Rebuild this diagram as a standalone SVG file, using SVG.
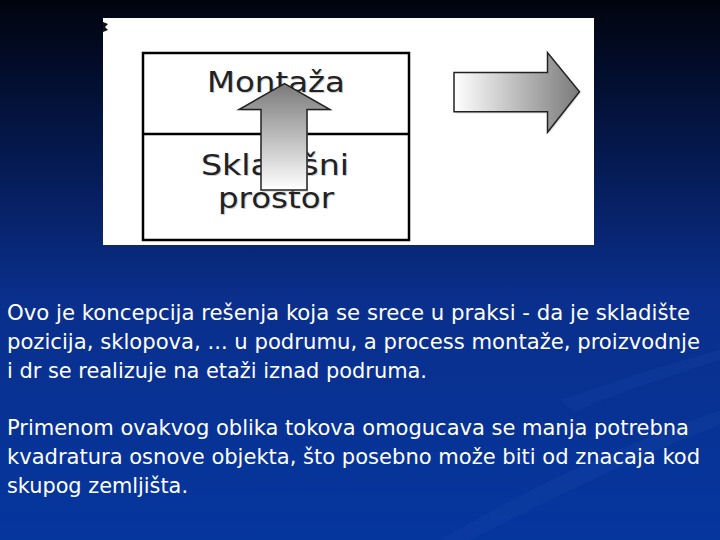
<svg xmlns="http://www.w3.org/2000/svg" width="720" height="540" viewBox="0 0 720 540">
<defs>
<linearGradient id="bg" x1="0" y1="0" x2="0" y2="1">
<stop offset="0" stop-color="#01040e"/>
<stop offset="0.3" stop-color="#051a52"/>
<stop offset="0.55" stop-color="#0a2f8c"/>
<stop offset="1" stop-color="#05369e"/>
</linearGradient>
<linearGradient id="gUp" x1="0" y1="0" x2="0" y2="1">
<stop offset="0" stop-color="#7a7a7a"/>
<stop offset="1" stop-color="#ffffff"/>
</linearGradient>
<linearGradient id="gRight" x1="0" y1="0" x2="1" y2="0">
<stop offset="0" stop-color="#ffffff"/>
<stop offset="1" stop-color="#7a7a7a"/>
</linearGradient>
<style>
.lbl{font-family:"DejaVu Sans",Verdana,sans-serif;font-size:28px;fill:#222}
.sh{font-family:"DejaVu Sans",Verdana,sans-serif;font-size:28px;fill:#cfcfcf}
.body{font-family:"DejaVu Sans Condensed","DejaVu Sans",sans-serif;font-size:22px;fill:#ffffff}
.arrow{stroke:#222;stroke-width:1.5;stroke-linejoin:miter}
</style>
</defs>
<rect x="0" y="0" width="720" height="540" fill="url(#bg)"/>
<path d="M440,540 C560,470 640,440 720,410 L720,425 C640,455 570,490 470,540 Z" fill="#2a55b8" opacity="0.15"/>
<path d="M560,400 C620,380 680,360 720,350 L720,360 C680,372 620,392 575,412 Z" fill="#2a55b8" opacity="0.15"/>
<g id="picture">
<rect x="103" y="18" width="491" height="227" fill="#ffffff"/>
<path d="M103,22 L108,24 L105,27 L108,30 L103,32 Z" fill="#111"/>
</g>
<g id="box">
<rect x="143" y="53" width="266" height="187" fill="#ffffff" stroke="#000" stroke-width="2.5"/>
<line x1="143" y1="134" x2="409" y2="134" stroke="#000" stroke-width="2.5"/>
</g>
<g id="montaza">
<text class="sh" x="208" y="93" textLength="138" lengthAdjust="spacingAndGlyphs">Montaža</text>
<text class="lbl" x="207" y="92" textLength="138" lengthAdjust="spacingAndGlyphs">Montaža</text>
</g>
<g id="skladisni">
<text class="sh" x="202" y="176" textLength="148" lengthAdjust="spacingAndGlyphs">Skladišni</text>
<text class="lbl" x="201" y="175" textLength="148" lengthAdjust="spacingAndGlyphs">Skladišni</text>
<text class="sh" x="219" y="209" textLength="116" lengthAdjust="spacingAndGlyphs">prostor</text>
<text class="lbl" x="218" y="208" textLength="116" lengthAdjust="spacingAndGlyphs">prostor</text>
</g>
<g id="connectors">
<polygon points="262,192 308,192 308,111 332,111 286,85 241,111 262,111" fill="#c8c8c8" opacity="0.5"/>
<polygon class="arrow" points="261,190 307,190 307,109.5 330,109.5 284.5,83.5 239,109.5 261,109.5" fill="url(#gUp)"/>
<polygon points="456,74 549,74 549,54 581,93 549,134 549,113.5 456,113.5" fill="#c8c8c8" opacity="0.5"/>
<polygon class="arrow" points="454,72.5 547.5,72.5 547.5,52.5 579.5,91.7 547.5,132.3 547.5,111.7 454,111.7" fill="url(#gRight)"/>
</g>
<g id="text">
<text class="body" x="7" y="320" textLength="683" lengthAdjust="spacingAndGlyphs">Ovo je koncepcija rešenja koja se srece u praksi - da je skladište</text>
<text class="body" x="7" y="349" textLength="693" lengthAdjust="spacingAndGlyphs">pozicija, sklopova, ... u podrumu, a process montaže, proizvodnje</text>
<text class="body" x="7" y="378" textLength="420" lengthAdjust="spacingAndGlyphs">i dr se realizuje na etaži iznad podruma.</text>
<text class="body" x="7" y="435" textLength="682" lengthAdjust="spacingAndGlyphs">Primenom ovakvog oblika tokova omogucava se manja potrebna</text>
<text class="body" x="7" y="464" textLength="693" lengthAdjust="spacingAndGlyphs">kvadratura osnove objekta, što posebno može biti od znacaja kod</text>
<text class="body" x="7" y="493" textLength="181" lengthAdjust="spacingAndGlyphs">skupog zemljišta.</text>
</g>
</svg>
